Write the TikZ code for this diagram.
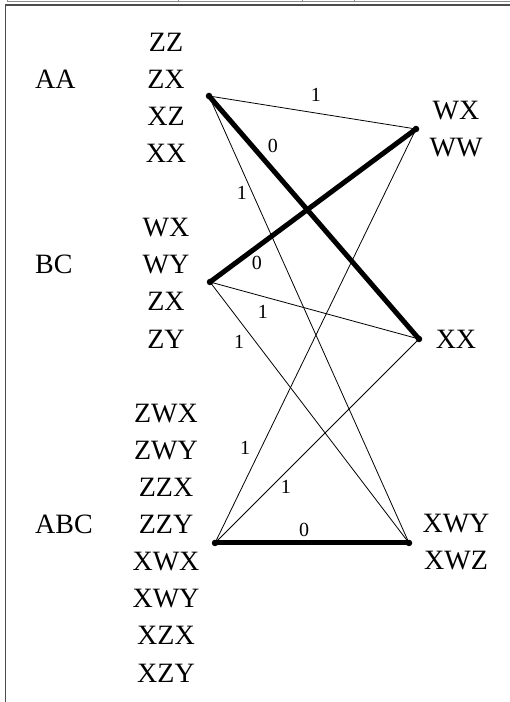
\documentclass[tikz,border=0pt]{standalone}
\usepackage{fontspec}
\setmainfont{Liberation Serif}
\begin{document}
\begin{tikzpicture}[x=1pt,y=1pt,
  txt/.style={font=\fontsize{28}{30}\selectfont, inner sep=0pt, anchor=base},
  lefttxt/.style={txt, anchor=base west},
  lbl/.style={font=\fontsize{20}{22}\selectfont, inner sep=0pt},
  dot/.style={circle, fill=black, inner sep=0pt, minimum size=6.5pt},
  thinedge/.style={line width=0.8pt},
  thickedge/.style={line width=5pt, line cap=round},
  frameline/.style={draw=black!70, line width=1.5pt},
]
\useasboundingbox (0,0) rectangle (510,702);
% page frame
\draw[black!45, line width=1pt] (7,700.5) -- (510,700.5);
\foreach \tx in {7,178,302,354} \draw[black!45, line width=1pt] (\tx,702) -- (\tx,700.5);
\draw[frameline] (510,697) -- (5.5,697) -- (5.5,0);
% middle column
\foreach \i/\t in {0/ZZ,1/ZX,2/XZ,3/XX,5/WX,6/WY,7/ZX,8/ZY,10/ZWX,11/ZWY,12/ZZX,13/ZZY,14/XWX,15/XWY,16/XZX,17/XZY}
  \node[txt] (m\i) at (166,650.7-37.1*\i) {\t};
% left column
\node[lefttxt] (gAA) at (35,650.7-37.1*1) {AA};
\node[lefttxt] (gBC) at (35,650.7-37.1*6) {BC};
\node[lefttxt] (gABC) at (35,650.7-37.1*13) {ABC};
% right column
\node[txt] (rWX) at (456,582.7) {WX};
\node[txt] (rWW) at (456,545.7) {WW};
\node[txt] (rXX) at (456,353.7) {XX};
\node[txt] (rXWY) at (456,169.7) {XWY};
\node[txt] (rXWZ) at (456,132.7) {XWZ};
% vertices
\coordinate (a) at (209,606);
\coordinate (w) at (416,573);
\coordinate (b) at (210,420);
\coordinate (x) at (419,363);
\coordinate (c) at (215,159);
\coordinate (v) at (409,159);
% edges
\draw[thinedge] (a) -- node[lbl, pos=0.503, shift={(2.8,17.6)}] (lAW) {1} (w);
\draw[thickedge] (a) -- node[lbl, pos=0.248, shift={(11.9,10.3)}] (lAX) {0} (x);
\draw[thinedge] (a) -- node[lbl, pos=0.208, shift={(-8.7,-3.9)}] (lAV) {1} (v);
\draw[thickedge] (b) -- node[lbl, pos=0.191, shift={(7.6,-10.3)}] (lBW) {0} (w);
\draw[thinedge] (b) -- node[lbl, pos=0.272, shift={(-3.9,-14.5)}] (lBX) {1} (x);
\draw[thinedge] (b) -- node[lbl, pos=0.199, shift={(-10.6,-8.1)}] (lBV) {1} (v);
\draw[thinedge] (c) -- node[lbl, pos=0.214, shift={(-13,6.4)}] (lCW) {1} (w);
\draw[thinedge] (c) -- node[lbl, pos=0.311, shift={(7.5,-7.5)}] (lCX) {1} (x);
\draw[thickedge] (c) -- node[lbl, pos=0.459, shift={(0,13)}] (lCV) {0} (v);
% dots
\foreach \p in {a,w,b,x,c,v} \node[dot] (d\p) at (\p) {};
\end{tikzpicture}
\end{document}
